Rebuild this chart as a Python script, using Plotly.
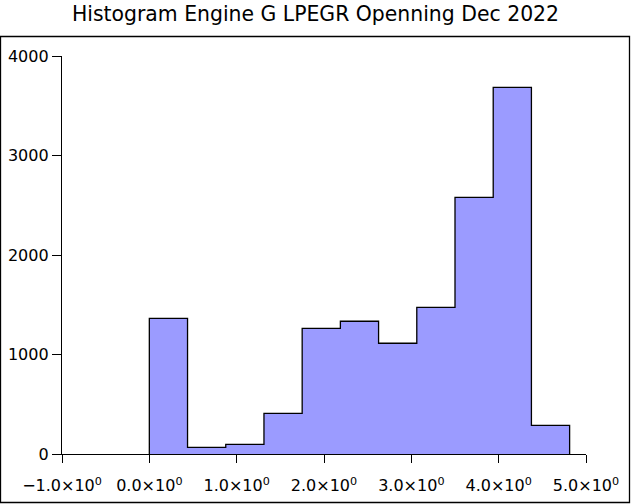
import plotly.graph_objects as go

# Data
bin_edges = [0.0, 0.4375, 0.875, 1.3125, 1.75, 2.1875, 2.625, 3.0625, 3.5, 3.9375, 4.375, 4.8125]
counts = [1364, 67, 97, 409, 1263, 1334, 1113, 1474, 2580, 3685, 288]
x_tick_vals = [-1, 0, 1, 2, 3, 4, 5]
x_tick_text = ["\u22121.0\u00d710<sup>0</sup>", "0.0\u00d710<sup>0</sup>", "1.0\u00d710<sup>0</sup>",
               "2.0\u00d710<sup>0</sup>", "3.0\u00d710<sup>0</sup>", "4.0\u00d710<sup>0</sup>",
               "5.0\u00d710<sup>0</sup>"]
y_tick_vals = [0, 1000, 2000, 3000, 4000]
title_text = "Histogram Engine G LPEGR Openning Dec 2022"

# step outline built from edges and counts
xs = [bin_edges[0]] + bin_edges[:-1] + [bin_edges[-1], bin_edges[-1]]
ys = [0] + counts + [counts[-1], 0]

fig = go.Figure()
fig.add_trace(go.Scatter(
    x=xs, y=ys, mode="lines", line_shape="hv",
    line=dict(color="black", width=1.3),
    fill="tozeroy", fillcolor="rgb(155,155,255)",
    showlegend=False, hoverinfo="skip",
))

L, R, T, B = 62, 45, 56, 50
W, H = 631, 504
pw, ph = W - L - R, H - T - B

def px2paper_x(px):
    return (px - L) / pw

def px2paper_y(py):
    return (H - B - py) / ph

fig.add_shape(type="rect", xref="paper", yref="paper",
              x0=px2paper_x(0.5), x1=px2paper_x(629.5),
              y0=px2paper_y(502.5), y1=px2paper_y(36.5),
              line=dict(color="black", width=1.3), fillcolor="rgba(0,0,0,0)", layer="below")

fig.update_layout(
    width=W, height=H, autosize=False,
    margin=dict(l=L, r=R, t=T, b=B, pad=0, autoexpand=False),
    paper_bgcolor="white", plot_bgcolor="white",
    font=dict(family="DejaVu Sans", color="black", size=16),
    title=dict(text=title_text, x=0.5, xanchor="center", xref="container",
               y=1 - 14 / H, yanchor="middle", yref="container",
               font=dict(size=20.4, color="black", family="DejaVu Sans")),
    showlegend=False,
)
fig.update_xaxes(range=[-1, 5], tickvals=x_tick_vals, ticktext=x_tick_text, automargin=False,
                 showgrid=False, zeroline=False, showline=True, linecolor="black", linewidth=1.3,
                 ticks="outside", ticklen=8, tickcolor="black", tickwidth=1.3,
                 ticklabelstandoff=9,
                 tickfont=dict(size=16))
fig.update_yaxes(range=[0, 4000], tickvals=y_tick_vals, automargin=False,
                 showgrid=False, zeroline=False, showline=True, linecolor="black", linewidth=1.3,
                 ticks="outside", ticklen=9, tickcolor="black", tickwidth=1.3,
                 tickfont=dict(size=16))

fig.write_html(
    "out.html",
    config={"displayModeBar": False, "responsive": False},
    post_script=(
        "document.body.style.margin='0px';"
        "document.body.style.overflow='hidden';"
        "document.documentElement.style.overflow='hidden';"
    ),
)
